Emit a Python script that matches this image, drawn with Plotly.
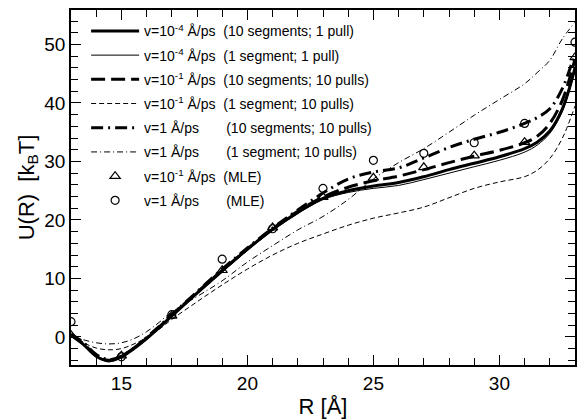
import plotly.graph_objects as go

# ---- data ----
R_grid = [13, 13.5, 14, 14.5, 15, 15.5, 16, 16.5, 17, 18, 19, 20, 21, 22, 23, 24, 25,
          26, 27, 28, 29, 30, 31, 31.5, 32, 32.5, 33]

u_v4_10seg = [0.3, -1.3, -3.3, -4.1, -3.4, -2.0, -0.3, 1.6, 3.6, 7.5, 11.3, 15.0, 18.4, 21.3,
              23.7, 25.0, 25.8, 26.4, 27.4, 28.6, 29.7, 30.8, 32.2, 33.3, 35.2, 39.0, 46.0]
u_v4_1seg = [0.3, -1.3, -3.2, -4.0, -3.4, -2.0, -0.3, 1.6, 3.5, 7.4, 11.1, 14.8, 18.2, 21.1,
             23.5, 24.7, 25.4, 25.9, 26.9, 28.0, 29.1, 30.2, 31.6, 32.8, 34.8, 38.6, 45.6]
u_v1_10seg = [0.3, -1.2, -3.2, -4.0, -3.3, -1.9, -0.2, 1.7, 3.7, 7.6, 11.4, 15.0, 18.5, 21.5,
              23.9, 25.6, 26.7, 27.5, 28.6, 29.8, 30.9, 31.9, 33.2, 34.3, 36.5, 40.5, 47.5]
u_v1_1seg = [0.2, -1.0, -1.9, -2.2, -2.0, -1.2, -0.1, 1.3, 3.0, 6.0, 8.9, 11.6, 14.0, 16.0,
             17.6, 19.1, 20.3, 21.2, 22.2, 23.8, 25.4, 26.5, 27.4, 28.5, 30.5, 34.0, 39.5]
u_v0_10seg = [0.5, -1.0, -3.0, -3.9, -3.3, -1.9, -0.1, 1.8, 3.8, 7.7, 11.6, 15.2, 18.6, 21.7,
              24.6, 27.0, 28.2, 28.9, 30.6, 32.4, 33.8, 35.0, 36.5, 37.5, 39.0, 42.5, 48.5]
u_v0_1seg = [0.2, -0.5, -1.0, -1.2, -1.0, -0.3, 0.9, 2.5, 4.3, 6.9, 9.6, 12.8, 15.6, 18.3,
             20.6, 23.5, 27.0, 29.8, 32.2, 35.0, 37.9, 40.6, 43.3, 45.2, 47.3, 51.0, 53.8]

R_mle = [13, 15, 17, 19, 21, 23, 25, 27, 29, 31, 33]
mle_v1 = [0.3, -3.2, 3.6, 11.4, 18.7, 23.9, 27.2, 29.0, 31.0, 33.3, 47.8]
mle_v0 = [2.6, -3.4, 3.8, 13.3, 18.5, 25.4, 30.2, 31.4, 33.2, 36.5, 50.4]

NB = "\u00a0"
names = [
    "v=10<sup>-4</sup> Å/ps" + NB * 2 + "(10 segments; 1 pull)",
    "v=10<sup>-4</sup> Å/ps" + NB * 2 + "(1 segment; 1 pull)",
    "v=10<sup>-1</sup> Å/ps" + NB * 2 + "(10 segments; 10 pulls)",
    "v=10<sup>-1</sup> Å/ps" + NB * 2 + "(1 segment; 10 pulls)",
    "v=1 Å/ps" + NB * 7 + "(10 segments; 10 pulls)",
    "v=1 Å/ps" + NB * 7 + "(1 segment; 10 pulls)",
    "v=10<sup>-1</sup> Å/ps" + NB * 2 + "(MLE)",
    "v=1 Å/ps" + NB * 7 + "(MLE)",
]

curves = [u_v4_10seg, u_v4_1seg, u_v1_10seg, u_v1_1seg, u_v0_10seg, u_v0_1seg]
styles = [
    dict(width=3, dash="solid"),
    dict(width=1, dash="solid"),
    dict(width=3, dash="14px,6px"),
    dict(width=1, dash="5px,3px"),
    dict(width=3, dash="12px,5px,2px,5px"),
    dict(width=1, dash="6px,3px,1px,3px"),
]

fig = go.Figure()
for i, (ys, st) in enumerate(zip(curves, styles)):
    fig.add_trace(go.Scatter(
        x=R_grid, y=ys, mode="lines", name=names[i], legendgroup=f"g{i}",
        line=dict(color="black", width=st["width"], dash=st["dash"], shape="spline", smoothing=1.0),
    ))

fig.add_trace(go.Scatter(
    x=R_mle, y=mle_v1, mode="markers", name=names[6], legendgroup="g6",
    marker=dict(symbol="triangle-up-open", size=9, color="black", line=dict(width=1.2)),
))
fig.add_trace(go.Scatter(
    x=R_mle, y=mle_v0, mode="markers", name=names[7], legendgroup="g7",
    marker=dict(symbol="circle-open", size=8, color="black", line=dict(width=1.2)),
))

axis_common = dict(
    showline=True, linecolor="black", linewidth=1.5, mirror="allticks",
    ticks="inside", ticklen=10, tickwidth=1.2, tickcolor="black",
    showgrid=False, zeroline=False,
    tickfont=dict(family="Liberation Sans, Arial, sans-serif", size=19, color="black"),
)

fig.update_layout(
    width=579, height=420,
    margin=dict(l=71, r=2, t=10, b=55),
    paper_bgcolor="white", plot_bgcolor="white",
    font=dict(family="Liberation Sans, Arial, sans-serif", color="black"),
    showlegend=True,
    legend=dict(
        x=0.03, y=0.985, xanchor="left", yanchor="top",
        bgcolor="rgba(0,0,0,0)", borderwidth=0,
        font=dict(size=14, color="black"),
        itemwidth=48, tracegroupgap=3,
    ),
    xaxis=dict(
        range=[13, 33], tickvals=[15, 20, 25, 30],
        minor=dict(dtick=1, ticks="inside", ticklen=7, tickcolor="black", tickwidth=1.2, showgrid=False),
        title=dict(text="R [Å]", font=dict(size=22), standoff=6),
        **axis_common,
    ),
    yaxis=dict(
        range=[-4.8, 55.9], tickvals=[0, 10, 20, 30, 40, 50],
        minor=dict(dtick=2, ticks="inside", ticklen=7, tickcolor="black", tickwidth=1.2, showgrid=False),
        title=dict(text="U(R)" + NB * 2 + "[k<sub>B</sub>T]", font=dict(size=22), standoff=4),
        **axis_common,
    ),
)

fig.write_html("out.html", config={"displayModeBar": False},
               post_script="document.body.style.margin='0';")
